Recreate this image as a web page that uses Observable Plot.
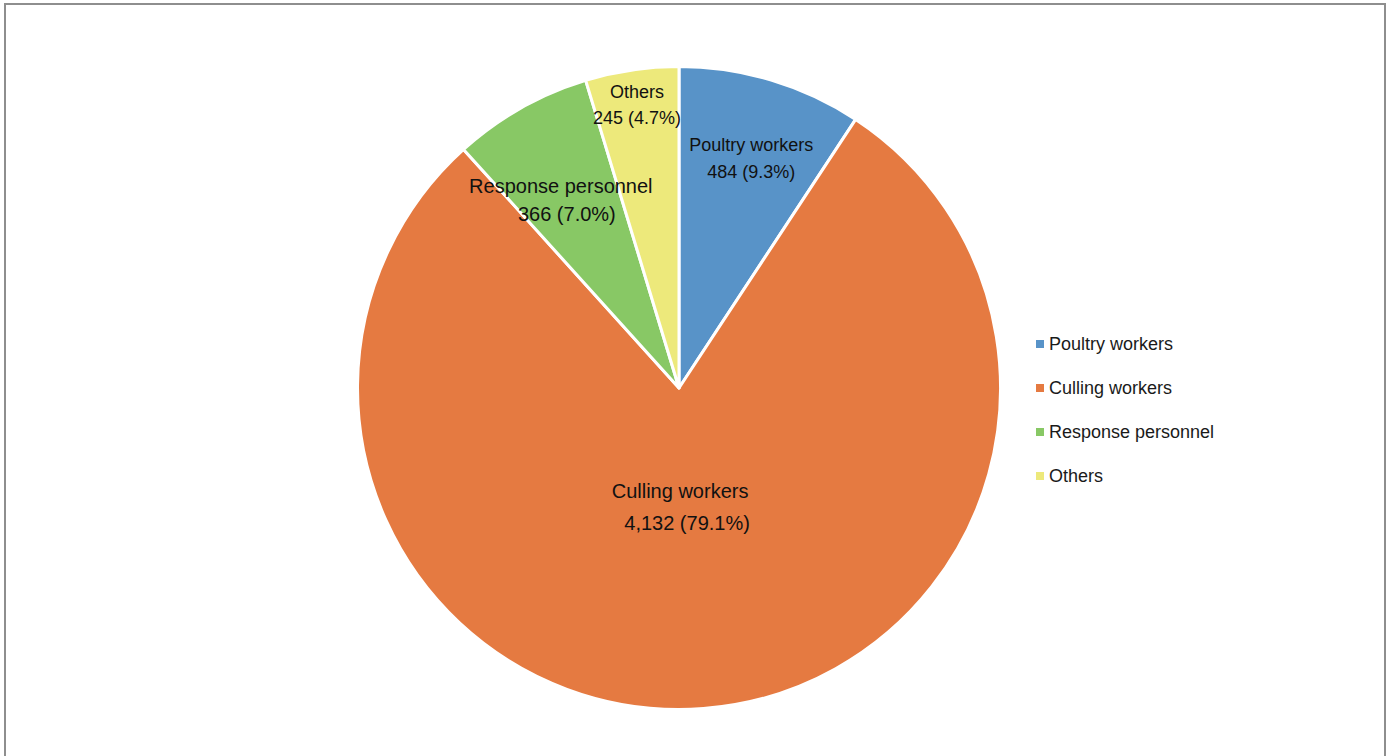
<!DOCTYPE html>
<html>
<head>
<meta charset="utf-8">
<script src="https://cdn.jsdelivr.net/npm/d3@7"></script>
<script src="https://cdn.jsdelivr.net/npm/@observablehq/plot@0.6"></script>
<style>
  html, body { margin: 0; padding: 0; background: #fff; }
  body { width: 1395px; height: 756px; position: relative; overflow: hidden; font-family: "Liberation Sans", Arial, sans-serif; }
  #frame { position: absolute; left: 4px; top: 3px; width: 1382px; height: 800px; border: 2px solid #8e8e8e; box-sizing: border-box; }
  #chart { position: absolute; left: 0; top: 0; }
  #legend { position: absolute; left: 1036px; top: 332px; }
  #err { position: absolute; left: 20px; top: 20px; color: red; font-size: 14px; white-space: pre; }
  .item { height: 44px; display: flex; align-items: flex-start; font-size: 18px; color: #1a1a1a; line-height: 24px; }
  .sw { width: 8px; height: 8px; margin-right: 5px; margin-top: 8px; flex: none; }
</style>
</head>
<body>
<div id="frame"></div>
<div id="chart"></div>
<div id="legend"></div>
<div id="err"></div>
<script>
const categories = ["Poultry workers", "Culling workers", "Response personnel", "Others"];
const counts = [484, 4132, 366, 245];
const percents = ["9.3%", "79.1%", "7.0%", "4.7%"];
const colors = ["#5893c8", "#e57a41", "#88c865", "#ede97b"];
// label placement: fraction of radius, pixel nudges, font sizes, half line gap (em)
const labelRadius = [0.75, 0.37, 0.69, 0.89];
const labelNudgeX = [3, -8, -9, 0];
const labelNudgeY = [1, 0, 5, 0];
const labelSize = [18, 20, 20, 18];
const labelGap = [0.76, 0.8, 0.7, 0.72];

try {
const data = categories.map((c, i) => ({category: c, value: counts[i], pct: percents[i]}));
const fmt = d3.format(",");

const W = 1395, H = 756, cx = 679, cy = 388, R = 321.5;

function pieMark(index, scales) {
  const g = d3.create("svg:g");
  const idx = d3.range(data.length);
  const pie = d3.pie().sort(null).value(i => data[i].value)(idx);
  const arc = d3.arc().innerRadius(0).outerRadius(R);
  const root = g.append("g").attr("transform", `translate(${cx},${cy})`);
  root.selectAll("path").data(pie).join("path")
    .attr("d", arc)
    .attr("fill", d => scales.color(data[d.data].category))
    .attr("stroke", "#fff")
    .attr("stroke-width", 3)
    .attr("stroke-linejoin", "round");
  const labels = root.selectAll("g.lbl").data(pie).join("g").attr("class", "lbl")
    .attr("transform", d => {
      const r = R * labelRadius[d.data];
      const c = d3.arc().innerRadius(r).outerRadius(r).centroid(d);
      return `translate(${c[0] + labelNudgeX[d.data]},${c[1] + labelNudgeY[d.data]})`;
    })
    .attr("font-family", "Liberation Sans, Arial, sans-serif")
    .attr("fill", "#111")
    .attr("text-anchor", "middle");
  labels.append("text")
    .attr("y", d => -labelGap[d.data] * labelSize[d.data])
    .attr("dy", "0.35em")
    .attr("font-size", d => labelSize[d.data])
    .text(d => data[d.data].category);
  labels.append("text")
    .attr("x", d => d.data === 1 ? 7 : d.data === 2 ? 6 : 0)
    .attr("y", d => labelGap[d.data] * labelSize[d.data])
    .attr("dy", "0.35em")
    .attr("font-size", d => labelSize[d.data])
    .text(d => `${fmt(data[d.data].value)} (${data[d.data].pct})`);
  return g.node();
}

const chart = Plot.plot({
  width: W,
  height: H,
  margin: 0,
  x: {axis: null, domain: [0, 1]},
  y: {axis: null, domain: [0, 1]},
  color: {domain: categories, range: colors},
  marks: [
    Plot.dot(data, {x: () => 0, y: () => 0, fill: "category", r: 0}),
    pieMark
  ]
});
chart.style.background = "transparent";
document.getElementById("chart").appendChild(chart);

const legend = d3.select("#legend");
const items = legend.selectAll("div.item").data(categories).join("div").attr("class", "item");
items.append("div").attr("class", "sw").style("background", (d, i) => colors[i]);
items.append("span").text(d => d);
} catch (e) {
  document.getElementById("err").textContent = String(e && e.stack || e);
}
</script>
</body>
</html>
